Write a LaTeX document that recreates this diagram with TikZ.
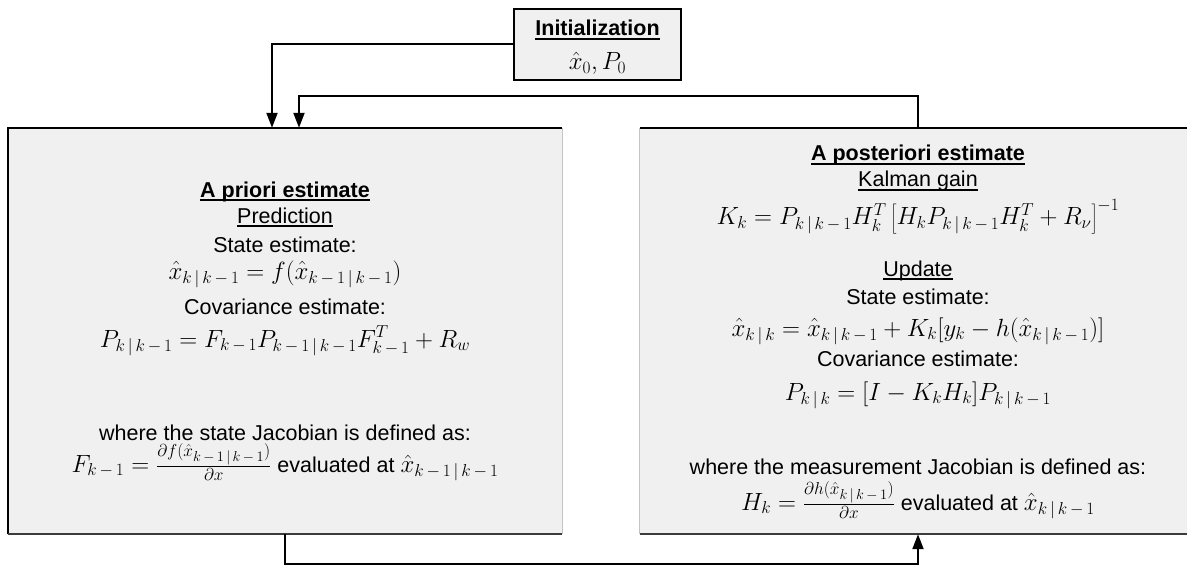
\documentclass[tikz,border=0pt]{standalone}
\usepackage{fontspec}
\setmainfont{Liberation Sans}
\usetikzlibrary{arrows.meta}
\definecolor{boxfill}{HTML}{F0F0F0}
\definecolor{edgelight}{HTML}{C4C4C4}
\definecolor{edgedark}{HTML}{3C3C3C}
\DeclareMathSizes{24}{24}{18}{14}
\newcommand\sKKm{k\,|\,k\,-\,1}
\newcommand\sKmKm{k\,-\,1\,|\,k\,-\,1}
\newcommand\sKK{k\,|\,k}
\newcommand\sKm{k\,-\,1}
\newcommand\xh{\hat{x}}
\newcommand\mth[1]{{\fontsize{24}{28}\selectfont$#1$}}
\newcommand\ulx[1]{\leavevmode\setbox0=\hbox{#1}\rlap{\vrule height -2.4pt depth 3.9pt width \wd0}\box0}
\begin{document}
\begin{tikzpicture}[x=1pt,y=-1pt,
  txt/.style={font=\fontsize{21.5}{26}\selectfont, inner sep=0pt, anchor=base},
  ttl/.style={txt, font=\fontsize{21.5}{26}\selectfont\bfseries},
  conn/.style={line width=2pt, -{Triangle[length=15pt,width=11pt]}},
  panel/.style={fill=boxfill, draw=none, inner sep=0pt, minimum width=554pt, minimum height=406pt},
  initbox/.style={fill=boxfill, draw=black, line width=1.2pt, inner sep=0pt, minimum width=167pt, minimum height=71pt},
  topedge/.style={line width=1.5pt, black},
  lightedge/.style={line width=1.2pt, edgelight},
  darkedge/.style={line width=1.6pt, edgedark},
]
\useasboundingbox (0,0) rectangle (1187,567);

% panels
\node[panel] (pred) at (285,331) {};
\node[panel, minimum width=556pt] (upd) at (918,331) {};
\draw[topedge] (pred.south west) -- (pred.north west) -- (pred.north east);
\draw[lightedge] (pred.north east) -- (pred.south east);
\draw[darkedge] (pred.south west) -- (pred.south east);
\draw[topedge] (upd.north west) -- (upd.north east);
\draw[lightedge] (upd.north west) -- (upd.south west);
\draw[darkedge] (upd.south west) -- (upd.south east);

% initialization
\node[initbox] (init) at (597.5,44.5) {};
\node[ttl] (initt) at (597.5,36) {\ulx{Initialization}};
\node[txt] (initm) at (597.5,70) {\mth{\xh_0, P_0}};

% left panel text
\node[ttl] (l1) at (285,197) {\ulx{A priori estimate}};
\node[txt] (l2) at (285,223) {\ulx{Prediction}};
\node[txt] (l3) at (285,252) {State estimate:};
\node[txt] (l4) at (285,279) {\mth{\xh_{\sKKm} = f(\xh_{\sKmKm})}};
\node[txt] (l5) at (285,314) {Covariance estimate:};
\node[txt] (l6) at (285,347) {\mth{P_{\sKKm} = F_{\sKm}P_{\sKmKm}F^T_{\sKm} + R_w}};
\node[txt] (l7) at (285,440) {where the state Jacobian is defined as:};
\node[txt] (l8) at (285,472) {\mth{F_{\sKm} = \frac{\partial f(\xh_{\sKmKm})}{\partial x}} evaluated at \mth{\xh_{\sKmKm}}};

% right panel text
\node[ttl] (r1) at (918,161) {\ulx{A posteriori estimate}};
\node[txt] (r2) at (918,187) {\ulx{Kalman gain}};
\node[txt] (r3) at (918,225) {\mth{K_k = P_{\sKKm}H_k^T\left[H_kP_{\sKKm}H_k^T + R_\nu\right]^{-1}}};
\node[txt] (r4) at (918,276) {\ulx{Update}};
\node[txt] (r5) at (918,304) {State estimate:};
\node[txt] (r6) at (918,336) {\mth{\xh_{\sKK} = \xh_{\sKKm} + K_k[y_k - h(\xh_{\sKKm})]}};
\node[txt] (r7) at (918,366) {Covariance estimate:};
\node[txt] (r8) at (918,400) {\mth{P_{\sKK} = [I - K_kH_k]P_{\sKKm}}};
\node[txt] (r9) at (918,474) {where the measurement Jacobian is defined as:};
\node[txt] (r10) at (918,510) {\mth{H_k = \frac{\partial h(\xh_{\sKKm})}{\partial x}} evaluated at \mth{\xh_{\sKKm}}};

% connectors
\draw[conn] (init.west) -| ([xshift=-13pt]pred.north);
\draw[conn] (upd.north) -- ++(0,-32) -| ([xshift=14pt]pred.north);
\draw[conn] (pred.south) -- ++(0,30) -| (upd.south);
\end{tikzpicture}
\end{document}
